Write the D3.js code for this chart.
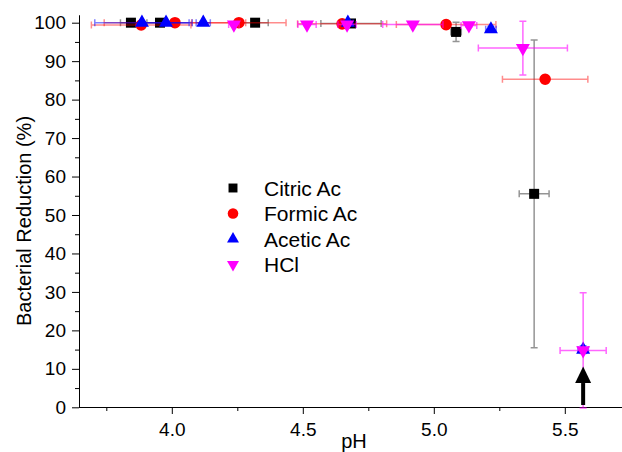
<!DOCTYPE html>
<html>
<head>
<meta charset="utf-8">
<script src="https://cdn.jsdelivr.net/npm/d3@7"></script>
<style>
	body { margin: 0; background: #fff; }
	svg { display: block; font-family: "Liberation Sans", Arial, sans-serif; }
	.axis path, .axis line { stroke: #000; stroke-width: 1; }
	.axis text { font-size: 19px; fill: #000; }
</style>
</head>
<body>
<svg id="chart"></svg>
<script>
// values
const seriesNames = ['Citric Ac', 'Formic Ac', 'Acetic Ac', 'HCl'];

const citricPH = [3.844, 3.955, 4.318, 4.684, 5.085, 5.383];
const citricRed = [100, 100, 100, 99.8, 97.6, 55.5];
const citricPHErr = [0.04, 0.05, 0.05, 0.115, 0.02, 0.057];
const citricRedErr = [0.3, 0.3, 0.3, 0.5, 2.5, 40];

const formicPH = [3.883, 4.012, 4.256, 4.65, 5.047, 5.425];
const formicRed = [99.4, 100, 100, 99.7, 99.5, 85.3];
const formicPHErr = [0.19, 0.27, 0.18, 0.17, 0.19, 0.163];
const formicRedErr = [0.5, 0.3, 0.3, 0.3, 0.5, 1];

const aceticPH = [3.886, 3.978, 4.12, 4.672, 5.218, 5.57];
const aceticRed = [100, 100, 100, 100, 98.3, 15];
const aceticPHErr = [0.18, 0.1, 0.027, 0.02, 0.02, 0.02];
const aceticRedErr = [0.3, 0.3, 0.3, 0.3, 0.8, 1];

const hclPH = [4.237, 4.516, 4.669, 4.92, 5.134, 5.34, 5.57];
const hclRed = [99.5, 99.5, 99.5, 99.5, 99.3, 93.4, 14.8];
const hclPHErr = [0.02, 0.035, 0.035, 0.115, 0.03, 0.17, 0.088];
const hclRedErr = [0.3, 0.3, 0.3, 0.3, 0.5, 7, 15];

const xTicks = [4.0, 4.5, 5.0, 5.5];
const xMinorTicks = [3.75, 4.25, 4.75, 5.25, 5.75];
const yTicks = [0, 10, 20, 30, 40, 50, 60, 70, 80, 90, 100];
const yMinorTicks = [5, 15, 25, 35, 45, 55, 65, 75, 85, 95];

// arrow marking the last point
const arrowPH = 5.57;
const arrowFrom = 0.6;
const arrowTo = 10.6;

const width = 622;
const height = 452;

const svg = d3.select('#chart')
	.attr('width', width)
	.attr('height', height);

const xScale = d3.scaleLinear().domain([3.645, 5.75]).range([78.8, 630.3]);
const yScale = d3.scaleLinear().domain([0, 102]).range([407.3, 15]);

const series = [
	{ name: seriesNames[0], ph: citricPH, red: citricRed, phErr: citricPHErr, redErr: citricRedErr,
		color: '#000000', err: '#000000', errOp: 0.42, symbol: d3.symbolSquare, size: 100, legSize: 80, rot: 0 },
	{ name: seriesNames[1], ph: formicPH, red: formicRed, phErr: formicPHErr, redErr: formicRedErr,
		color: '#ff0000', err: '#ff0000', errOp: 0.45, symbol: d3.symbolCircle, size: 105, legSize: 88, rot: 0 },
	{ name: seriesNames[2], ph: aceticPH, red: aceticRed, phErr: aceticPHErr, redErr: aceticRedErr,
		color: '#0000ff', err: '#0000ff', errOp: 0.5, symbol: d3.symbolTriangle, size: 85, legSize: 62, rot: 0 },
	{ name: seriesNames[3], ph: hclPH, red: hclRed, phErr: hclPHErr, redErr: hclRedErr,
		color: '#ff00ff', err: '#ff00ff', errOp: 0.6, symbol: d3.symbolTriangle, size: 85, legSize: 62, rot: 180 }
];

// axes
const xAxis = d3.axisBottom(xScale).tickValues(xTicks).tickFormat(d3.format('.1f'))
	.tickSize(7).tickPadding(9).tickSizeOuter(0);
const xMinor = d3.axisBottom(xScale).tickValues(xMinorTicks).tickFormat('')
	.tickSize(4).tickSizeOuter(0);
const yAxis = d3.axisLeft(yScale).tickValues(yTicks).tickSize(7).tickPadding(6).tickSizeOuter(0);
const yMinor = d3.axisLeft(yScale).tickValues(yMinorTicks).tickFormat('').tickSize(4).tickSizeOuter(0);

svg.append('g').attr('class', 'axis').attr('transform', 'translate(0, 407)').call(xMinor);
svg.append('g').attr('class', 'axis').attr('transform', 'translate(0, 407)').call(xAxis);
svg.append('g').attr('class', 'axis').attr('transform', 'translate(79, 0)').call(yMinor);
svg.append('g').attr('class', 'axis').attr('transform', 'translate(79, 0)').call(yAxis);

svg.append('text')
	.attr('x', 354)
	.attr('y', 448)
	.attr('text-anchor', 'middle')
	.style('font-size', '20px')
	.text('pH');

svg.append('text')
	.attr('transform', 'translate(31, 221) rotate(-90)')
	.attr('text-anchor', 'middle')
	.style('font-size', '20px')
	.text('Bacterial Reduction (%)');

// error bars and markers
const cap = 3.5;

series.forEach(s => {
	const pts = s.ph.map((p, i) => ({ ph: p, red: s.red[i], ex: s.phErr[i], ey: s.redErr[i] }));
	const g = svg.append('g');

	const eb = g.append('g')
		.attr('stroke', s.err)
		.attr('stroke-opacity', s.errOp)
		.attr('stroke-width', 1.5)
		.attr('fill', 'none');

	pts.forEach(d => {
		const cx = xScale(d.ph);
		const cy = yScale(d.red);
		const x0 = xScale(d.ph - d.ex);
		const x1 = xScale(d.ph + d.ex);
		const y0 = yScale(d.red - d.ey);
		const y1 = yScale(d.red + d.ey);
		eb.append('path')
			.attr('d', `M${x0},${cy}H${x1}M${x0},${cy - cap}V${cy + cap}M${x1},${cy - cap}V${cy + cap}`);
		eb.append('path')
			.attr('d', `M${cx},${y0}V${y1}M${cx - cap},${y0}H${cx + cap}M${cx - cap},${y1}H${cx + cap}`);
	});

	g.selectAll('.pt')
		.data(pts)
		.enter()
		.append('path')
		.attr('d', d3.symbol().type(s.symbol).size(s.size))
		.attr('transform', d => `translate(${xScale(d.ph)}, ${yScale(d.red)}) rotate(${s.rot})`)
		.attr('fill', s.color);
});

// legend
const legend = svg.append('g');
series.forEach((s, i) => {
	const ly = 188 + i * 25.5;
	legend.append('path')
		.attr('d', d3.symbol().type(s.symbol).size(s.legSize))
		.attr('transform', `translate(233, ${ly}) rotate(${s.rot})`)
		.attr('fill', s.color);
	legend.append('text')
		.attr('x', 264)
		.attr('y', ly)
		.attr('dy', '0.36em')
		.style('font-size', '21px')
		.text(s.name);
});

// arrow
const ax = xScale(arrowPH);
const headBase = yScale(arrowTo) + 16.5;
svg.append('line')
	.attr('x1', ax).attr('x2', ax)
	.attr('y1', yScale(arrowFrom)).attr('y2', headBase)
	.attr('stroke', '#000')
	.attr('stroke-width', 4);
svg.append('path')
	.attr('d', `M${ax},${yScale(arrowTo)}L${ax + 8},${headBase}L${ax - 8},${headBase}Z`)
	.attr('fill', '#000');
</script>
</body>
</html>
